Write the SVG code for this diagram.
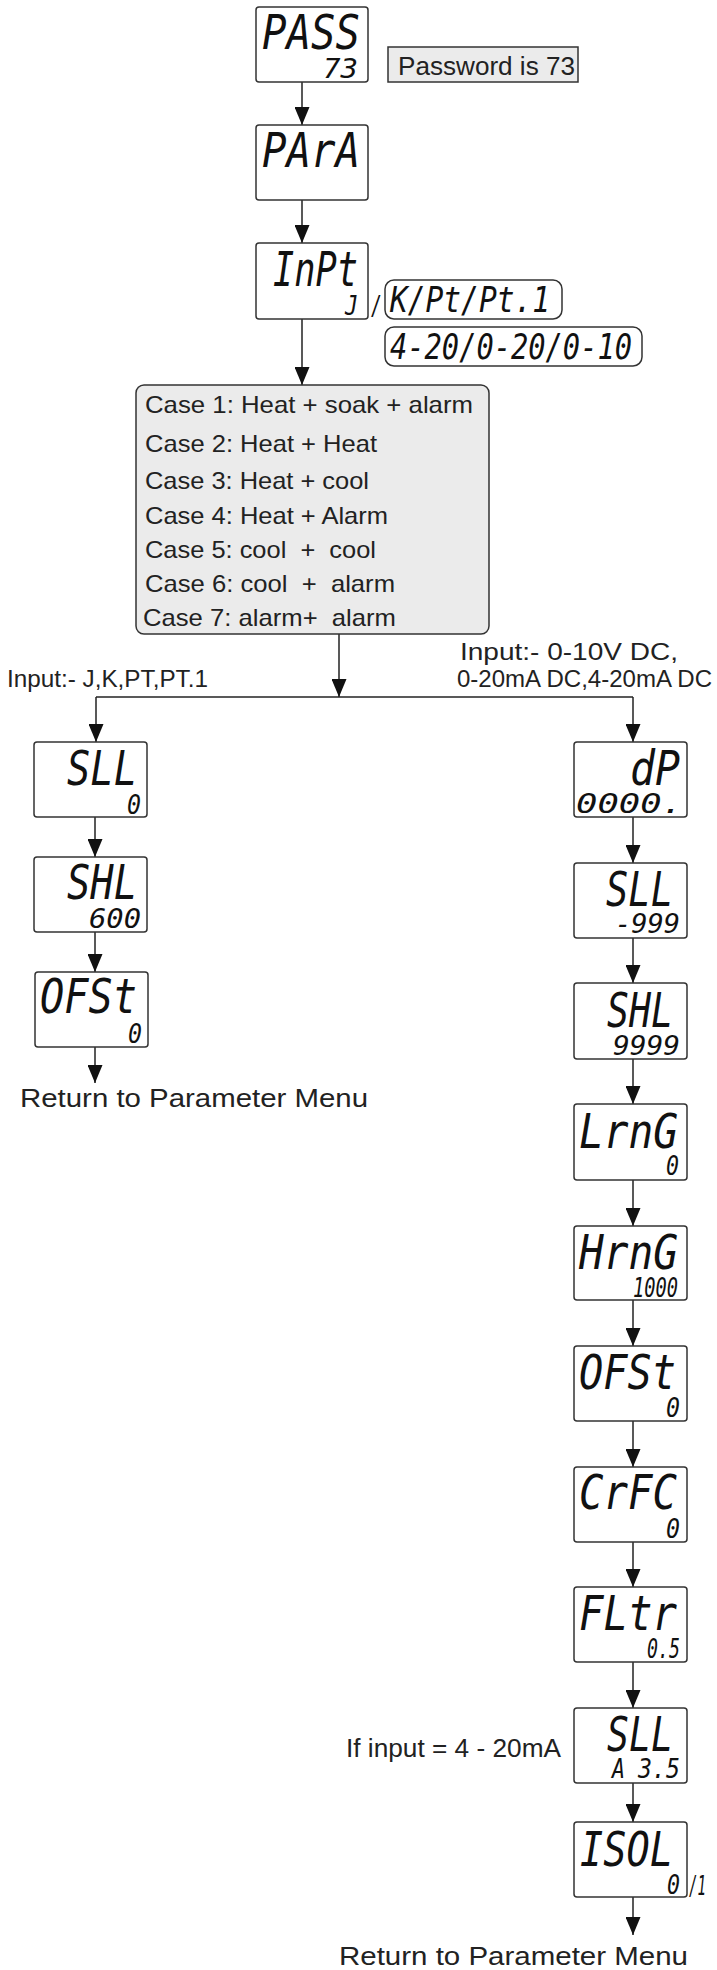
<svg xmlns="http://www.w3.org/2000/svg" width="717" height="1970" viewBox="0 0 717 1970">
<style>
.bx{fill:#fff;stroke:#333;stroke-width:1.5}
.gray{fill:#ebebeb;stroke:#333;stroke-width:1.5}
.ln{fill:none;stroke:#222;stroke-width:1.5}
.lcd{font-family:"DejaVu Sans Mono",monospace;font-style:italic;fill:#111}
.big{font-size:48px}
.mid{font-size:36px}
.sm{font-size:26px}
.t{font-family:"Liberation Sans",Arial,sans-serif;fill:#222;white-space:pre}
</style>
<defs>
<marker id="ah" viewBox="0 0 18 15" refX="18" refY="7.5" markerWidth="18" markerHeight="15" markerUnits="userSpaceOnUse" orient="auto">
<path d="M0,0 L18,7.5 L0,15 z" fill="#111"/>
</marker>
</defs>

<g id="connectors">
<path class="ln" d="M302,82 V125" marker-end="url(#ah)"/>
<path class="ln" d="M302,200 V243" marker-end="url(#ah)"/>
<path class="ln" d="M302,319 V385" marker-end="url(#ah)"/>
<path class="ln" d="M339,634 V697" marker-end="url(#ah)"/>
<path class="ln" d="M96,697 H633"/>
<path class="ln" d="M96,697 V742" marker-end="url(#ah)"/>
<path class="ln" d="M633,697 V742" marker-end="url(#ah)"/>
<path class="ln" d="M95,817 V857" marker-end="url(#ah)"/>
<path class="ln" d="M95,932 V972" marker-end="url(#ah)"/>
<path class="ln" d="M95,1047 V1083" marker-end="url(#ah)"/>
<path class="ln" d="M633,817 V863" marker-end="url(#ah)"/>
<path class="ln" d="M633,938 V983" marker-end="url(#ah)"/>
<path class="ln" d="M633,1059 V1104" marker-end="url(#ah)"/>
<path class="ln" d="M633,1180 V1226" marker-end="url(#ah)"/>
<path class="ln" d="M633,1300 V1346" marker-end="url(#ah)"/>
<path class="ln" d="M633,1421 V1467" marker-end="url(#ah)"/>
<path class="ln" d="M633,1542 V1587" marker-end="url(#ah)"/>
<path class="ln" d="M633,1662 V1708" marker-end="url(#ah)"/>
<path class="ln" d="M633,1783 V1822" marker-end="url(#ah)"/>
<path class="ln" d="M633,1897 V1935" marker-end="url(#ah)"/>
</g>

<g id="pass">
<rect class="bx" x="256" y="7" width="112" height="75" rx="3"/>
<text class="lcd big" x="262" y="49" textLength="98" lengthAdjust="spacingAndGlyphs">PASS</text>
<text class="lcd sm" x="323" y="78" textLength="35" lengthAdjust="spacingAndGlyphs">73</text>
</g>
<g id="password-note">
<rect class="gray" x="388" y="47" width="190" height="35"/>
<text class="t" x="398" y="75" font-size="26" textLength="177" lengthAdjust="spacingAndGlyphs">Password is 73</text>
</g>
<g id="para">
<rect class="bx" x="256" y="125" width="112" height="75" rx="3"/>
<text class="lcd big" x="262" y="167" textLength="98" lengthAdjust="spacingAndGlyphs">PArA</text>
</g>
<g id="inpt">
<rect class="bx" x="256" y="243" width="112" height="76" rx="3"/>
<text class="lcd big" x="273" y="286" textLength="85" lengthAdjust="spacingAndGlyphs">InPt</text>
<text class="lcd sm" x="345" y="315" textLength="13" lengthAdjust="spacingAndGlyphs">J</text>
<text class="lcd sm" x="371" y="315" textLength="11" lengthAdjust="spacingAndGlyphs">/</text>
</g>
<g id="inpt-opt1">
<rect class="bx" x="385" y="280" width="177" height="39" rx="9"/>
<text class="lcd mid" x="390" y="312" textLength="160" lengthAdjust="spacingAndGlyphs">K/Pt/Pt.1</text>
</g>
<g id="inpt-opt2">
<rect class="bx" x="385" y="327" width="257" height="39" rx="9"/>
<text class="lcd mid" x="390" y="359" textLength="242" lengthAdjust="spacingAndGlyphs">4-20/0-20/0-10</text>
</g>

<g id="cases">
<rect class="gray" x="136" y="385" width="353" height="249" rx="8"/>
<text class="t" x="145" y="413" font-size="24" textLength="328" lengthAdjust="spacingAndGlyphs">Case 1: Heat + soak + alarm</text>
<text class="t" x="145" y="452" font-size="24" textLength="232" lengthAdjust="spacingAndGlyphs">Case 2: Heat + Heat</text>
<text class="t" x="145" y="489" font-size="24" textLength="224" lengthAdjust="spacingAndGlyphs">Case 3: Heat + cool</text>
<text class="t" x="145" y="524" font-size="24" textLength="243" lengthAdjust="spacingAndGlyphs">Case 4: Heat + Alarm</text>
<text class="t" x="145" y="558" font-size="24" textLength="231" lengthAdjust="spacingAndGlyphs">Case 5: cool  +  cool</text>
<text class="t" x="145" y="592" font-size="24" textLength="250" lengthAdjust="spacingAndGlyphs">Case 6: cool  +  alarm</text>
<text class="t" x="143" y="626" font-size="24" textLength="253" lengthAdjust="spacingAndGlyphs">Case 7: alarm+  alarm</text>
</g>

<g id="labels">
<text class="t" x="7" y="687" font-size="23" textLength="201" lengthAdjust="spacingAndGlyphs">Input:- J,K,PT,PT.1</text>
<text class="t" x="460" y="660" font-size="23" textLength="218" lengthAdjust="spacingAndGlyphs">Input:- 0-10V DC,</text>
<text class="t" x="457" y="687" font-size="23" textLength="255" lengthAdjust="spacingAndGlyphs">0-20mA DC,4-20mA DC</text>
<text class="t" x="20" y="1107" font-size="26" textLength="348" lengthAdjust="spacingAndGlyphs">Return to Parameter Menu</text>
<text class="t" x="346" y="1757" font-size="25" textLength="215" lengthAdjust="spacingAndGlyphs">If input = 4 - 20mA</text>
<text class="t" x="339" y="1965" font-size="26" textLength="349" lengthAdjust="spacingAndGlyphs">Return to Parameter Menu</text>
</g>

<g id="l-sll">
<rect class="bx" x="34" y="742" width="113" height="75" rx="3"/>
<text class="lcd big" x="67" y="785" textLength="70" lengthAdjust="spacingAndGlyphs">SLL</text>
<text class="lcd sm" x="127" y="814" textLength="14" lengthAdjust="spacingAndGlyphs">0</text>
</g>
<g id="l-shl">
<rect class="bx" x="34" y="857" width="113" height="75" rx="3"/>
<text class="lcd big" x="67" y="899" textLength="70" lengthAdjust="spacingAndGlyphs">SHL</text>
<text class="lcd sm" x="89" y="928" textLength="52" lengthAdjust="spacingAndGlyphs">600</text>
</g>
<g id="l-ofst">
<rect class="bx" x="35" y="972" width="113" height="75" rx="3"/>
<text class="lcd big" x="40" y="1013" textLength="97" lengthAdjust="spacingAndGlyphs">OFSt</text>
<text class="lcd sm" x="128" y="1043" textLength="14" lengthAdjust="spacingAndGlyphs">0</text>
</g>

<g id="r-dp">
<rect class="bx" x="574" y="742" width="113" height="75" rx="3"/>
<text class="lcd big" x="630" y="785" textLength="50" lengthAdjust="spacingAndGlyphs">dP</text>
<text class="lcd sm" x="576" y="813" textLength="107" lengthAdjust="spacingAndGlyphs">0000.</text>
</g>
<g id="r-sll">
<rect class="bx" x="574" y="863" width="113" height="75" rx="3"/>
<text class="lcd big" x="606" y="906" textLength="67" lengthAdjust="spacingAndGlyphs">SLL</text>
<text class="lcd sm" x="615" y="933" textLength="65" lengthAdjust="spacingAndGlyphs">-999</text>
</g>
<g id="r-shl">
<rect class="bx" x="574" y="983" width="113" height="76" rx="3"/>
<text class="lcd big" x="607" y="1027" textLength="66" lengthAdjust="spacingAndGlyphs">SHL</text>
<text class="lcd sm" x="613" y="1055" textLength="67" lengthAdjust="spacingAndGlyphs">9999</text>
</g>
<g id="r-lrng">
<rect class="bx" x="574" y="1104" width="113" height="76" rx="3"/>
<text class="lcd big" x="579" y="1148" textLength="99" lengthAdjust="spacingAndGlyphs">LrnG</text>
<text class="lcd sm" x="666" y="1175" textLength="13" lengthAdjust="spacingAndGlyphs">0</text>
</g>
<g id="r-hrng">
<rect class="bx" x="574" y="1226" width="113" height="74" rx="3"/>
<text class="lcd big" x="579" y="1269" textLength="99" lengthAdjust="spacingAndGlyphs">HrnG</text>
<text class="lcd sm" x="633" y="1297" textLength="45" lengthAdjust="spacingAndGlyphs">1000</text>
</g>
<g id="r-ofst">
<rect class="bx" x="574" y="1346" width="113" height="75" rx="3"/>
<text class="lcd big" x="579" y="1389" textLength="97" lengthAdjust="spacingAndGlyphs">OFSt</text>
<text class="lcd sm" x="666" y="1417" textLength="14" lengthAdjust="spacingAndGlyphs">0</text>
</g>
<g id="r-crfc">
<rect class="bx" x="574" y="1467" width="113" height="75" rx="3"/>
<text class="lcd big" x="579" y="1509" textLength="98" lengthAdjust="spacingAndGlyphs">CrFC</text>
<text class="lcd sm" x="666" y="1538" textLength="14" lengthAdjust="spacingAndGlyphs">0</text>
</g>
<g id="r-fltr">
<rect class="bx" x="574" y="1587" width="113" height="75" rx="3"/>
<text class="lcd big" x="579" y="1630" textLength="98" lengthAdjust="spacingAndGlyphs">FLtr</text>
<text class="lcd sm" x="647" y="1658" textLength="33" lengthAdjust="spacingAndGlyphs">0.5</text>
</g>
<g id="r-sll2">
<rect class="bx" x="574" y="1708" width="113" height="75" rx="3"/>
<text class="lcd big" x="607" y="1751" textLength="66" lengthAdjust="spacingAndGlyphs">SLL</text>
<text class="lcd sm" x="612" y="1778" textLength="13" lengthAdjust="spacingAndGlyphs">A</text>
<text class="lcd sm" x="638" y="1778" textLength="42" lengthAdjust="spacingAndGlyphs">3.5</text>
</g>
<g id="r-isol">
<rect class="bx" x="574" y="1822" width="113" height="75" rx="3"/>
<text class="lcd big" x="580" y="1866" textLength="93" lengthAdjust="spacingAndGlyphs">ISOL</text>
<text class="lcd sm" x="667" y="1894" textLength="13" lengthAdjust="spacingAndGlyphs">0</text>
<text class="lcd sm" x="689" y="1895" textLength="17" lengthAdjust="spacingAndGlyphs">/1</text>
</g>
</svg>
